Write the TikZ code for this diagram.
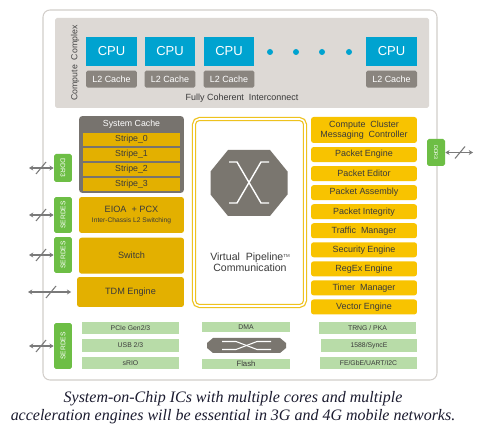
\documentclass[tikz,border=0pt]{standalone}
\usepackage{fontspec}
\setsansfont{Liberation Sans}
\newfontfamily\capfont{Liberation Serif}
\usepackage{tikz}
\usetikzlibrary{positioning,arrows.meta}
\usepackage{xcolor}
\definecolor{cpublue}{HTML}{00A3D0}
\definecolor{l2gray}{HTML}{8A857F}
\definecolor{ccgray}{HTML}{DDD9D5}
\definecolor{scgray}{HTML}{77736E}
\definecolor{darkyel}{HTML}{E3B000}
\definecolor{brightyel}{HTML}{F8C300}
\definecolor{vpyel}{HTML}{EEC21E}
\definecolor{sgreen}{HTML}{6DBE45}
\definecolor{lgreen}{HTML}{B8DCA8}
\definecolor{octgray}{HTML}{7A766F}
\definecolor{bordgray}{HTML}{D2CECA}
\definecolor{arrgray}{HTML}{7A7A7A}
\definecolor{txtdark}{HTML}{3A3A3A}
\definecolor{labgray}{HTML}{444444}
\definecolor{capcol}{HTML}{1C1C30}
\newcommand\txtsz[2]{\fontsize{#1}{#2}\selectfont}

\begin{document}
\begin{tikzpicture}[x=0.02cm,y=-0.02cm,>={Stealth[length=2.4pt,width=2.8pt]},
  cpu/.style={fill=cpublue,text=white,minimum width=1.02cm,minimum height=0.58cm,inner sep=0pt,font=\sffamily\txtsz{7.4}{8}},
  cache/.style={fill=l2gray,text=white,rounded corners=1pt,minimum width=1.02cm,minimum height=0.34cm,inner sep=0pt,font=\sffamily\txtsz{5.1}{6}},
  stripe/.style={fill=darkyel,text=txtdark,minimum width=1.94cm,minimum height=0.26cm,inner sep=0pt,font=\sffamily\txtsz{5}{6}},
  ybox/.style={fill=darkyel,text=txtdark,rounded corners=1.5pt,minimum width=2.1cm,inner sep=0pt,font=\sffamily\txtsz{5.2}{6.2}},
  rbox/.style={fill=brightyel,text=txtdark,rounded corners=1.5pt,minimum width=2.12cm,minimum height=0.3cm,inner sep=0pt,font=\sffamily\txtsz{5.1}{5.4}},
  gbox/.style={fill=sgreen,text=white,rounded corners=1pt,minimum height=0.36cm,inner sep=0pt,font=\sffamily\txtsz{3.8}{4}},
  lbox/.style={fill=lgreen,text=txtdark,minimum width=1.94cm,minimum height=0.24cm,inner sep=0pt,font=\sffamily\txtsz{3.9}{4}},
  gline/.style={draw=arrgray,line width=0.6pt},
  dot/.style={circle,fill=cpublue,inner sep=0pt,minimum size=0.12cm}]
\useasboundingbox[fill=white] (0,0) rectangle (480,435);

% chip outline and compute complex
\draw[bordgray,line width=0.6pt,rounded corners=4pt,fill=white] (43,10) rectangle (437,380);
\fill[ccgray,rounded corners=1pt] (55,18) rectangle (429,108);
\node (cclab) [rotate=90,text=labgray,font=\sffamily\txtsz{5}{6}] at (75,63) {Compute\ \ Complex};
\node (cpu1) [cpu] at (111.5,51.5) {CPU};
\node (cpu2) [cpu] at (170,51.5) {CPU};
\node (cpu3) [cpu] at (229,51.5) {CPU};
\node (cpu4) [cpu] at (391.5,51.5) {CPU};
\node (l2a) [cache,below=0.08cm of cpu1] {L2 Cache};
\node (l2b) [cache,below=0.08cm of cpu2] {L2 Cache};
\node (l2c) [cache,below=0.08cm of cpu3] {L2 Cache};
\node (l2d) [cache,below=0.08cm of cpu4] {L2 Cache};
\node (d1) [dot] at (270,52) {};
\node (d2) [dot] at (296,52) {};
\node (d3) [dot] at (322,52) {};
\node (d4) [dot] at (349,52) {};
\node (fci) [text=txtdark,font=\sffamily\txtsz{5.1}{6}] at (242,98) {Fully Coherent\ \ Interconnect};

% system cache
\node (sc) [fill=scgray,rounded corners=2pt,minimum width=2.1cm,minimum height=1.54cm] at (131.5,154.5) {};
\node (sclab) [text=white,font=\sffamily\txtsz{5}{6}] at (131.5,124) {System Cache};
\node (st0) [stripe] at (131.5,139.5) {Stripe\_0};
\node (st1) [stripe,below=0.026cm of st0] {Stripe\_1};
\node (st2) [stripe,below=0.026cm of st1] {Stripe\_2};
\node (st3) [stripe,below=0.026cm of st2] {Stripe\_3};

% left engines
\node (eioa) [ybox,minimum height=0.72cm,align=center] at (131.5,215) {EIOA\ \ +\ PCX\\{\txtsz{3.8}{4}Inter-Chassis L2 Switching}};
\node (sw) [ybox,minimum height=0.72cm,below=0.08cm of eioa] {Switch};
\node (tdm) [ybox,minimum width=2.14cm,minimum height=0.6cm] at (130.5,292) {TDM Engine};

% interfaces
\node (ddr3l) [gbox,rotate=-90,minimum width=0.56cm] at (63,168) {DDR3};
\node (serdes1) [gbox,rotate=90,minimum width=0.72cm] at (63,215) {SERDES};
\node (serdes2) [gbox,rotate=90,minimum width=0.72cm] at (63,255) {SERDES};
\node (serdes3) [gbox,rotate=90,minimum width=0.92cm] at (63,346) {SERDES};
\node (ddr3r) [gbox,rotate=-90,minimum width=0.54cm,font=\sffamily\txtsz{3}{3.5}] at (436,152.5) {DDR3};

\coordinate (a1) at (29,168);
\coordinate (a2) at (29,215);
\coordinate (a3) at (29,255);
\coordinate (a4) at (28,292);
\coordinate (a5) at (473,152.5);
\coordinate (a6) at (29,346);
\draw[gline,<->] (a1) -- (ddr3l);
\draw[gline,<->] (a2) -- (serdes1);
\draw[gline,<->] (a3) -- (serdes2);
\draw[gline,<->,shorten >=0.11cm] (a4) -- (tdm);
\draw[gline,<->] (ddr3r) -- (a5);
\draw[gline,<->] (a6) -- (serdes3);
\coordinate (m1) at (41,168);
\coordinate (m2) at (41,215);
\coordinate (m3) at (41,255);
\coordinate (m4) at (51,292);
\coordinate (m5) at (460,152.5);
\coordinate (m6) at (41,346);
\draw[gline] ([shift={(-5,6)}]m1) -- ([shift={(5,-6)}]m1);
\draw[gline] ([shift={(-5,6)}]m2) -- ([shift={(5,-6)}]m2);
\draw[gline] ([shift={(-5,6)}]m3) -- ([shift={(5,-6)}]m3);
\draw[gline] ([shift={(-5,6)}]m4) -- ([shift={(5,-6)}]m4);
\draw[gline] ([shift={(-5,6)}]m5) -- ([shift={(5,-6)}]m5);
\draw[gline] ([shift={(-5,6)}]m6) -- ([shift={(5,-6)}]m6);

% virtual pipeline
\node (vp) [fill=white,draw=vpyel,double=white,line width=0.7pt,double distance=0.9pt,rounded corners=3pt,minimum width=2.22cm,minimum height=3.74cm] at (249.5,212.5) {};
\fill[octgray] (228,150) -- (270,150) -- (287.5,171.5) -- (287.5,194.5) -- (270,216) -- (228,216) -- (210.5,194.5) -- (210.5,171.5) -- cycle;
\draw[white,line width=0.8pt] (229,162) -- (237,162) -- (261,203) -- (269,203);
\draw[white,line width=0.8pt] (269,162) -- (261,162) -- (237,203) -- (229,203);
\node (vptxt) [align=center,text=txtdark,font=\sffamily\txtsz{6}{6.2}] at (250,262.5) {Virtual\ \ Pipeline\raisebox{1.8pt}{\txtsz{2.5}{3}TM}\\Communication};

% right engines
\node (ccmc) [rbox,minimum height=0.52cm,align=center] at (364,130) {Compute\ \ Cluster\\Messaging\ \ Controller};
\node (pe) [rbox,below=0.067cm of ccmc] {Packet Engine};
\node (ped) [rbox,below=0.067cm of pe] {Packet Editor};
\node (pa) [rbox,below=0.067cm of ped] {Packet Assembly};
\node (pi) [rbox,below=0.067cm of pa] {Packet Integrity};
\node (tm) [rbox,below=0.067cm of pi] {Traffic\ \ Manager};
\node (se) [rbox,below=0.067cm of tm] {Security Engine};
\node (rx) [rbox,below=0.067cm of se] {RegEx Engine};
\node (tmr) [rbox,below=0.067cm of rx] {Timer\ \ Manager};
\node (ve) [rbox,below=0.067cm of tmr] {Vector Engine};

% peripherals
\node (pcie) [lbox] at (130.5,328) {PCIe Gen2/3};
\node (usb) [lbox,minimum height=0.26cm] at (130.5,345.5) {USB 2/3};
\node (srio) [lbox] at (130.5,363) {sRIO};
\node (dma) [lbox,minimum width=1.76cm,minimum height=0.2cm] at (246,327) {DMA};
\node (flash) [lbox,minimum width=1.76cm,minimum height=0.2cm,font=\sffamily\txtsz{4.4}{5}] at (246,364) {Flash};
\fill[octgray] (213,338) -- (280,338) -- (286,343) -- (286,348) -- (280,353) -- (213,353) -- (207,348) -- (207,343) -- cycle;
\draw[white,line width=0.6pt] (222,341.5) -- (236,341.5) -- (257,349.5) -- (271,349.5);
\draw[white,line width=0.6pt] (271,341.5) -- (257,341.5) -- (236,349.5) -- (222,349.5);
\node (trng) [lbox] at (367.5,328) {TRNG / PKA};
\node (sync) [lbox,minimum width=1.92cm,minimum height=0.26cm] at (369,345.5) {1588/SyncE};
\node (fe) [lbox] at (368.5,363) {FE/GbE/UART/I2C};

% caption
\node (cap) [align=center,text=capcol,font=\capfont\itshape\txtsz{9.1}{10.3}] at (233,408) {System-on-Chip ICs with multiple cores and multiple\\acceleration engines will be essential in 3G and 4G mobile networks.};
\end{tikzpicture}
\end{document}
